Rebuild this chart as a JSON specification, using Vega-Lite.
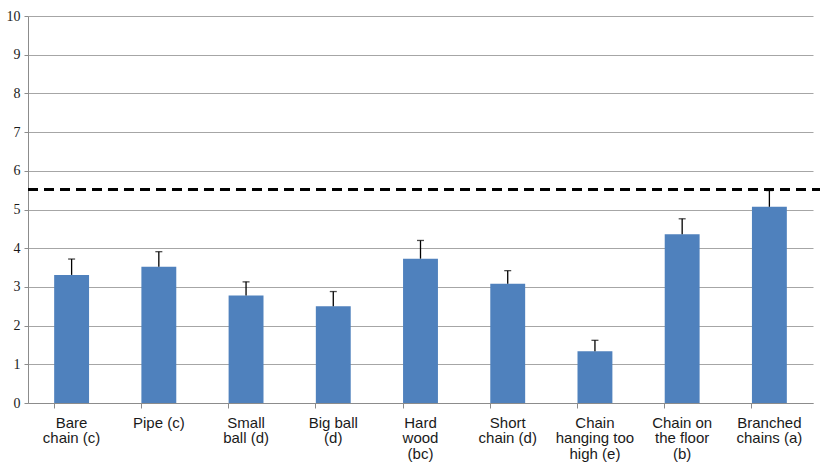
{
  "$schema": "https://vega.github.io/schema/vega-lite/v6.json",
  "autosize": "none",
  "padding": {"left": 28, "top": 16, "right": 7, "bottom": 65},
  "width": 785,
  "height": 387,
  "background": "#ffffff",
  "data": {
    "values": [
      {"item": "Bare|chain (c)", "mean": 3.31, "upper": 3.72},
      {"item": "Pipe (c)", "mean": 3.52, "upper": 3.91},
      {"item": "Small|ball (d)", "mean": 2.78, "upper": 3.13},
      {"item": "Big ball|(d)", "mean": 2.5, "upper": 2.88},
      {"item": "Hard|wood|(bc)", "mean": 3.73, "upper": 4.2},
      {"item": "Short|chain (d)", "mean": 3.08, "upper": 3.42},
      {"item": "Chain|hanging too|high (e)", "mean": 1.34, "upper": 1.62},
      {"item": "Chain on|the floor|(b)", "mean": 4.36, "upper": 4.76},
      {"item": "Branched|chains (a)", "mean": 5.07, "upper": 5.49}
    ]
  },
  "encoding": {
    "x": {
      "field": "item",
      "type": "nominal",
      "sort": null,
      "scale": {"paddingInner": 0.6, "paddingOuter": 0.3},
      "axis": {
        "title": null,
        "labelAngle": 0,
        "labelExpr": "split(datum.label, '|')",
        "labelFont": "Liberation Sans",
        "labelFontSize": 15,
        "labelColor": "#1a1a1a",
        "labelLineHeight": 15.5,
        "labelPadding": 7,
        "bandPosition": 0,
        "tickSize": 5,
        "tickColor": "#8c8c8c",
        "domainColor": "#8c8c8c",
        "grid": false
      }
    },
    "y": {
      "field": "mean",
      "type": "quantitative",
      "scale": {"domain": [0, 10]},
      "axis": {
        "title": null,
        "values": [0, 1, 2, 3, 4, 5, 6, 7, 8, 9, 10],
        "labelFont": "Liberation Serif",
        "labelFontSize": 14,
        "labelColor": "#1a1a1a",
        "labelPadding": 4,
        "tickSize": 4,
        "tickColor": "#8c8c8c",
        "domainColor": "#8c8c8c",
        "gridColor": "#a6a6a6",
        "gridWidth": 1
      }
    }
  },
  "layer": [
    {
      "mark": {"type": "bar", "color": "#4f81bd"}
    },
    {
      "mark": {"type": "rule", "color": "#000000", "strokeWidth": 1.3},
      "encoding": {
        "y2": {"field": "upper"}
      }
    },
    {
      "mark": {"type": "tick", "color": "#000000", "size": 7, "thickness": 1.3},
      "encoding": {
        "y": {"field": "upper", "type": "quantitative"}
      }
    },
    {
      "mark": {"type": "rule", "color": "#000000", "strokeWidth": 2.5, "strokeDash": [10, 6]},
      "encoding": {
        "y": {"datum": 5.51},
        "x": {"value": 0},
        "x2": {"value": 795}
      }
    }
  ],
  "config": {
    "view": {"stroke": null},
    "axisY": {"labelFont": "Liberation Serif", "labelFontSize": 14}
  }
}
